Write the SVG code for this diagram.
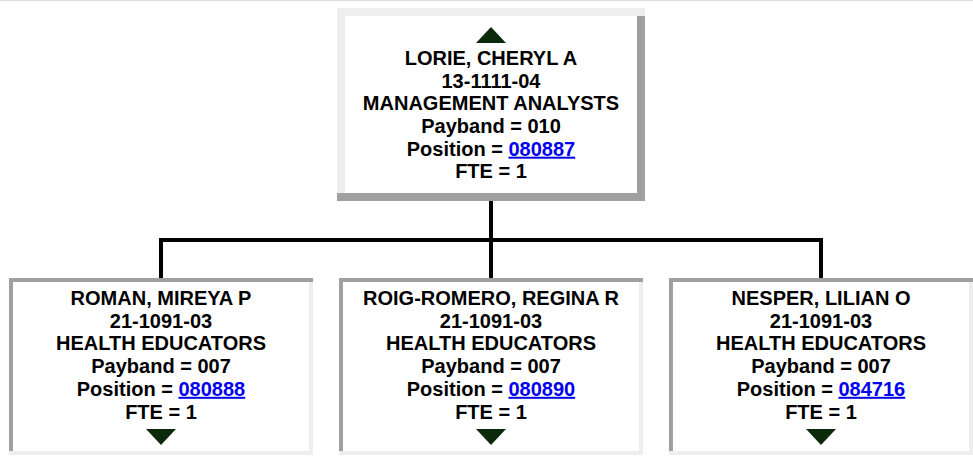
<svg xmlns="http://www.w3.org/2000/svg" width="973" height="460" viewBox="0 0 973 460">
<style>
.t{font-family:"Liberation Sans",Arial,sans-serif;font-weight:bold;font-size:20px;fill:#000;text-anchor:middle}
.lnk{fill:#0000ee;text-decoration:underline}
.lt{fill:#eeeeee}
.dk{fill:#a0a0a0}
.in{fill:#ffffff}
.tri{fill:#0b2a0b}
.con{stroke:#000;stroke-width:4;fill:none;stroke-linecap:square}
</style>
<rect x="0" y="0" width="973" height="460" fill="#fff"/>
<rect x="0" y="0" width="973" height="1" fill="#dcdcdc"/>
<g id="connectors">
<path class="con" d="M491,203 V238"/>
<path class="con" d="M161,240 H821"/>
<path class="con" d="M161,240 V276"/>
<path class="con" d="M491,240 V276"/>
<path class="con" d="M821,240 V276"/>
</g>
<g id="node-lorie">
<rect class="in" x="345" y="16" width="292" height="177"/>
<rect class="lt" x="337" y="8" width="308" height="8"/>
<rect class="lt" x="337" y="8" width="8" height="185"/>
<rect class="dk" x="637" y="16" width="8" height="185"/>
<rect class="dk" x="337" y="193" width="308" height="8"/>
<polygon class="tri" points="476,43 506,43 491,27"/>
<text class="t" x="491" y="65">LORIE, CHERYL A</text>
<text class="t" x="491" y="87.7">13-1111-04</text>
<text class="t" x="491" y="110.4">MANAGEMENT ANALYSTS</text>
<text class="t" x="491" y="133">Payband = 010</text>
<text class="t" x="491" y="155.7">Position = <tspan class="lnk">080887</tspan></text>
<text class="t" x="491" y="178">FTE = 1</text>
</g>
<g id="node-roman">
<rect class="in" x="13" y="282" width="296" height="169"/>
<rect class="dk" x="9" y="278" width="304" height="4"/>
<rect class="dk" x="9" y="278" width="4" height="173"/>
<rect class="lt" x="309" y="282" width="4" height="173"/>
<rect class="lt" x="9" y="451" width="304" height="4"/>
<text class="t" x="161" y="305">ROMAN, MIREYA P</text>
<text class="t" x="161" y="327.7">21-1091-03</text>
<text class="t" x="161" y="350.4">HEALTH EDUCATORS</text>
<text class="t" x="161" y="373.1">Payband = 007</text>
<text class="t" x="161" y="395.8">Position = <tspan class="lnk">080888</tspan></text>
<text class="t" x="161" y="418.5">FTE = 1</text>
<polygon class="tri" points="146,429 176,429 161,445"/>
</g>
<g id="node-roig-romero">
<rect class="in" x="343" y="282" width="296" height="169"/>
<rect class="dk" x="339" y="278" width="304" height="4"/>
<rect class="dk" x="339" y="278" width="4" height="173"/>
<rect class="lt" x="639" y="282" width="4" height="173"/>
<rect class="lt" x="339" y="451" width="304" height="4"/>
<text class="t" x="491" y="305">ROIG-ROMERO, REGINA R</text>
<text class="t" x="491" y="327.7">21-1091-03</text>
<text class="t" x="491" y="350.4">HEALTH EDUCATORS</text>
<text class="t" x="491" y="373.1">Payband = 007</text>
<text class="t" x="491" y="395.8">Position = <tspan class="lnk">080890</tspan></text>
<text class="t" x="491" y="418.5">FTE = 1</text>
<polygon class="tri" points="476,429 506,429 491,445"/>
</g>
<g id="node-nesper">
<rect class="in" x="673" y="282" width="296" height="169"/>
<rect class="dk" x="669" y="278" width="304" height="4"/>
<rect class="dk" x="669" y="278" width="4" height="173"/>
<rect class="lt" x="969" y="282" width="4" height="173"/>
<rect class="lt" x="669" y="451" width="304" height="4"/>
<text class="t" x="821" y="305">NESPER, LILIAN O</text>
<text class="t" x="821" y="327.7">21-1091-03</text>
<text class="t" x="821" y="350.4">HEALTH EDUCATORS</text>
<text class="t" x="821" y="373.1">Payband = 007</text>
<text class="t" x="821" y="395.8">Position = <tspan class="lnk">084716</tspan></text>
<text class="t" x="821" y="418.5">FTE = 1</text>
<polygon class="tri" points="806,429 836,429 821,445"/>
</g>
</svg>
